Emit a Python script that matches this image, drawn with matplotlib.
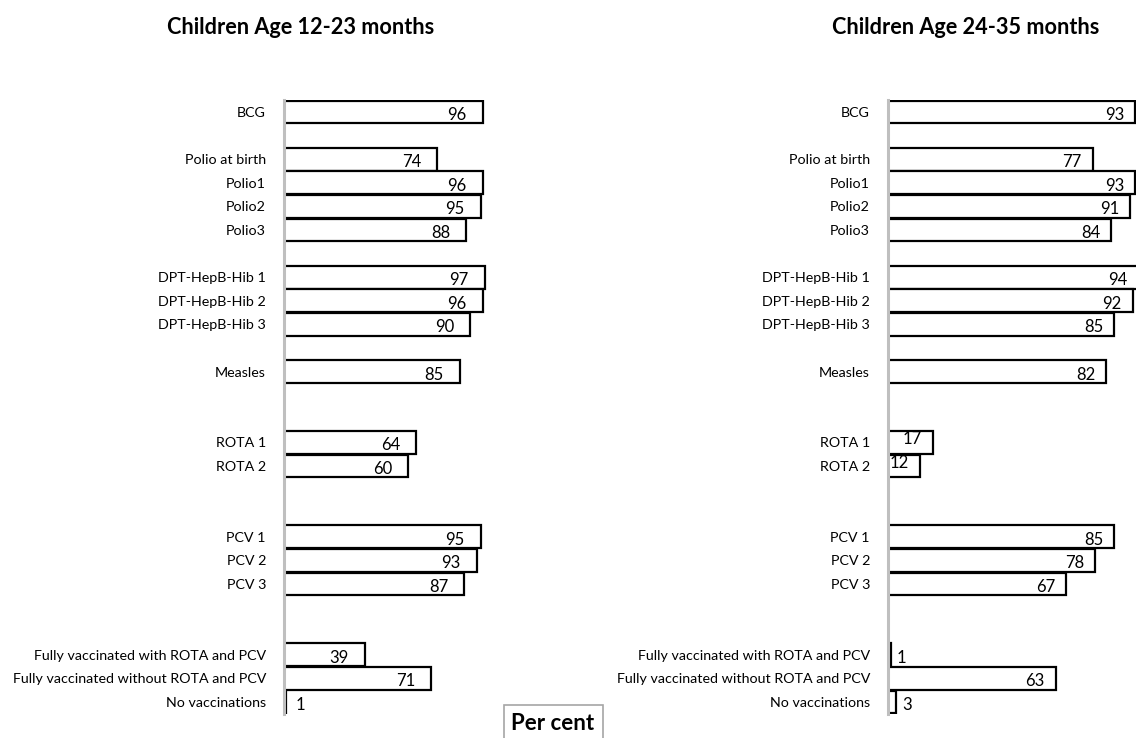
import matplotlib
matplotlib.use("Agg")
import matplotlib.pyplot as plt
from matplotlib.patches import Rectangle

plt.rcParams['font.family'] = ['Lato', 'DejaVu Sans']

# ---- data ----
groups = [
    ["BCG"],
    ["Polio at birth", "Polio1", "Polio2", "Polio3"],
    ["DPT-HepB-Hib 1", "DPT-HepB-Hib 2", "DPT-HepB-Hib 3"],
    ["Measles"],
    ["ROTA 1", "ROTA 2"],
    ["PCV 1", "PCV 2", "PCV 3"],
    ["Fully vaccinated with ROTA and PCV", "Fully vaccinated without ROTA and PCV", "No vaccinations"],
]
gaps_after = [1, 1, 1, 2, 2, 2, 0]   # empty slots between groups

age_12_23 = [96, 74, 96, 95, 88, 97, 96, 90, 85, 64, 60, 95, 93, 87, 39, 71, 1]
age_24_35 = [93, 77, 93, 91, 84, 94, 92, 85, 82, 17, 12, 85, 78, 67, 1, 63, 3]

title_left = "Children Age 12-23 months"
title_right = "Children Age 24-35 months"
unit_label = "Per cent"

# ---- layout of categories ----
labels, slots = [], []
s = 0
for g, gap in zip(groups, gaps_after):
    for lab in g:
        labels.append(lab)
        slots.append(s)
        s += 1
    s += gap
n_slots = s

W, H = 1136, 738
fig = plt.figure(figsize=(W / 100, H / 100), dpi=100)

def px(x0, y_top, w, h):
    return [x0 / W, 1 - (y_top + h) / H, w / W, h / H]

y_top, y_bot = 100.2, 713.8

def panel(rect, values, xmax, pad_in, pad_out, title, title_x):
    ax = fig.add_axes(rect)
    ax.barh(slots, values, height=0.96, color="white", edgecolor="black",
            linewidth=1.6, zorder=2)
    ax.set_xlim(0, xmax)
    ax.set_ylim(n_slots - 0.5, -0.5)
    ax.set_yticks(slots)
    ax.set_yticklabels(labels, fontsize=10.25)
    ax.tick_params(axis='y', length=0, pad=13)
    ax.set_xticks([])
    for sp in ["top", "right", "bottom"]:
        ax.spines[sp].set_visible(False)
    ax.spines["left"].set_color("#bfbfbf")
    ax.spines["left"].set_linewidth(2.2)
    ax.spines["left"].set_zorder(3)
    for yv, v in zip(slots, values):
        if v <= 5:
            ax.annotate(str(v), (v, yv), xytext=(pad_out, -3), textcoords="offset pixels",
                        ha="left", va="center", fontsize=12, zorder=4,
                        annotation_clip=False)
        elif v < 20:
            ax.annotate(str(v), (v, yv), xytext=(-pad_in, 3), textcoords="offset pixels",
                        ha="right", va="center", fontsize=12, zorder=4,
                        annotation_clip=False)
        else:
            ax.annotate(str(v), (v, yv), xytext=(-pad_in, -3), textcoords="offset pixels",
                        ha="right", va="center", fontsize=12, zorder=4,
                        annotation_clip=False)
    fig.text(title_x / W, 1 - 28 / H, title, ha="center", va="center",
             fontsize=15.6, fontweight="bold")
    return ax

left_scale = 2.07
right_scale = 2.66
panel(px(284, y_top, 100 * left_scale, y_bot - y_top), age_12_23, 100,
      16, 10, title_left, 301)
panel(px(888, y_top, W - 888, y_bot - y_top), age_24_35, (W - 888) / right_scale,
      11, 6, title_right, 966)

# "Per cent" box
box = Rectangle((504 / W, 1 - 745 / H), 99 / W, 40 / H, transform=fig.transFigure,
                facecolor="white", edgecolor="#a6a6a6", linewidth=1.2)
fig.patches.append(box)
fig.text(553 / W, 1 - 723 / H, unit_label, ha="center", va="center",
         fontsize=16, fontweight="bold")

fig.savefig("out.png", dpi=100)
